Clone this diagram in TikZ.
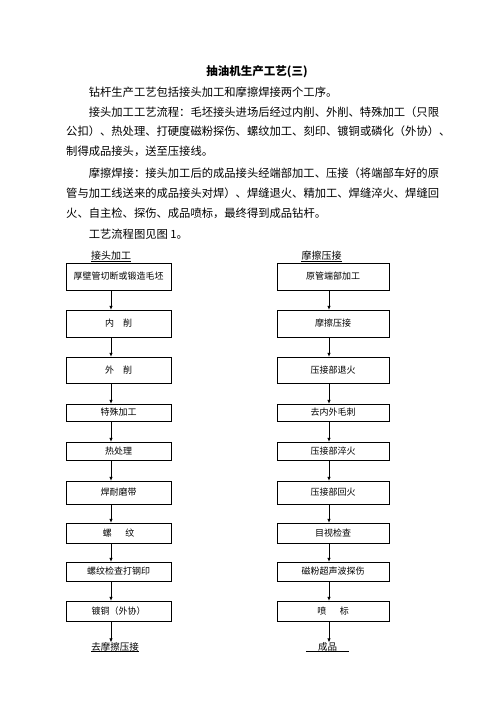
\documentclass[tikz,border=0pt]{standalone}
\usepackage{fontspec}
\setmainfont{Noto Sans CJK SC}
\usetikzlibrary{arrows.meta}
\begin{document}
\begin{tikzpicture}[
            x=1pt, y=-1pt,
            para/.style={anchor=west, inner sep=0pt, font=\fontsize{11.3}{11.3}\selectfont},
            lbox/.style={rectangle, draw, minimum width=105pt, inner sep=0pt, font=\fontsize{9}{9}\selectfont},
            rbox/.style={rectangle, draw, minimum width=112pt, inner sep=0pt, font=\fontsize{9}{9}\selectfont},
            head/.style={inner sep=0pt, font=\fontsize{10}{10}\selectfont},
            tail/.style={inner sep=0pt, font=\fontsize{9.5}{9.5}\selectfont},
            arr/.style={-{Latex[length=4pt,width=3.5pt]}, line width=0.7pt}
        ]
        \useasboundingbox (0,0) rectangle (496,702);
        % text above the chart
        \node[inner sep=0pt, font=\fontsize{11.5}{11.5}\selectfont\bfseries] (title) at (257,72) {抽油机生产工艺(三)};
        \node[para] (p1) at (88.6,92) {钻杆生产工艺包括接头加工和摩擦焊接两个工序。};
        \node[para] (p2) at (88.6,112) {接头加工工艺流程：毛坯接头进场后经过内削、外削、特殊加工（只限};
        \node[para] (p3) at (66,131) {公扣）、热处理、打硬度磁粉探伤、螺纹加工、刻印、镀铜或磷化（外协）、};
        \node[para] (p4) at (66,151) {制得成品接头，送至压接线。};
        \node[para] (p5) at (88.6,173) {摩擦焊接：接头加工后的成品接头经端部加工、压接（将端部车好的原};
        \node[para] (p6) at (66,193) {管与加工线送来的成品接头对焊）、焊缝退火、精加工、焊缝淬火、焊缝回};
        \node[para] (p7) at (66,213) {火、自主检、探伤、成品喷标，最终得到成品钻杆。};
        \node[para] (p8) at (88.6,234) {工艺流程图见图 1。};
        % left column
        \node[head] (lh) at (111,256) {接头加工};
        \node[lbox, minimum height=27pt] (l1) at (118.5,276.5) {厚壁管切断或锻造毛坯};
        \node[lbox, minimum height=27pt] (l2) at (118.5,323.5) {内　削};
        \node[lbox, minimum height=26pt] (l3) at (118.5,370) {外　削};
        \node[lbox, minimum height=17pt] (l4) at (118.5,412.5) {特殊加工};
        \node[lbox, minimum height=18pt] (l5) at (118.5,451) {热处理};
        \node[lbox, minimum height=23pt] (l6) at (118.5,492.5) {焊耐磨带};
        \node[lbox, minimum height=20pt] (l7) at (118.5,533) {螺\hspace{1.5em}纹};
        \node[lbox, minimum height=19pt] (l8) at (118.5,571.5) {螺纹检查打钢印};
        \node[lbox, minimum height=20pt] (l9) at (118.5,611) {镀铜（外协）};
        \node[tail] (lt) at (115,647) {去摩擦压接};
        % right column
        \node[head] (rh) at (321.5,256) {摩擦压接};
        \node[rbox, minimum height=27pt] (r1) at (333,276.5) {原管端部加工};
        \node[rbox, minimum height=27pt] (r2) at (333,323.5) {摩擦压接};
        \node[rbox, minimum height=26pt] (r3) at (333,370) {压接部退火};
        \node[rbox, minimum height=17pt] (r4) at (333,412.5) {去内外毛刺};
        \node[rbox, minimum height=18pt] (r5) at (333,451) {压接部淬火};
        \node[rbox, minimum height=23pt] (r6) at (333,492.5) {压接部回火};
        \node[rbox, minimum height=20pt] (r7) at (333,533) {目视检查};
        \node[rbox, minimum height=19pt] (r8) at (333,571.5) {磁粉超声波探伤};
        \node[rbox, minimum height=20pt] (r9) at (333,611) {喷\hspace{1.5em}标};
        \node[tail, minimum width=43pt] (rt) at (327.5,647) {成品};
        % underlines
        \draw (lh.south west) -- (lh.south east);
        \draw (rh.south west) -- (rh.south east);
        \draw (lt.south west) -- (lt.south east);
        \draw (rt.south west) -- (rt.south east);
        % arrows
        \draw[arr] ([xshift=-7.5pt]l1.south) -- ([xshift=-7.5pt]l2.north);
        \draw[arr] ([xshift=-7.5pt]l2.south) -- ([xshift=-7.5pt]l3.north);
        \draw[arr] ([xshift=-7.5pt]l3.south) -- ([xshift=-7.5pt]l4.north);
        \draw[arr] ([xshift=-7.5pt]l4.south) -- ([xshift=-7.5pt]l5.north);
        \draw[arr] ([xshift=-7.5pt]l5.south) -- ([xshift=-7.5pt]l6.north);
        \draw[arr] ([xshift=-7.5pt]l6.south) -- ([xshift=-7.5pt]l7.north);
        \draw[arr] ([xshift=-7.5pt]l7.south) -- ([xshift=-7.5pt]l8.north);
        \draw[arr] ([xshift=-7.5pt]l8.south) -- ([xshift=-7.5pt]l9.north);
        \draw[arr] ([xshift=-7.5pt]l9.south) -- ([xshift=-7.5pt]l9.south |- lt.north);
        \draw[arr] ([xshift=-4pt]r1.south) -- ([xshift=-4pt]r2.north);
        \draw[arr] ([xshift=-4pt]r2.south) -- ([xshift=-4pt]r3.north);
        \draw[arr] ([xshift=-4pt]r3.south) -- ([xshift=-4pt]r4.north);
        \draw[arr] ([xshift=-4pt]r4.south) -- ([xshift=-4pt]r5.north);
        \draw[arr] ([xshift=-4pt]r5.south) -- ([xshift=-4pt]r6.north);
        \draw[arr] ([xshift=-4pt]r6.south) -- ([xshift=-4pt]r7.north);
        \draw[arr] ([xshift=-4pt]r7.south) -- ([xshift=-4pt]r8.north);
        \draw[arr] ([xshift=-4pt]r8.south) -- ([xshift=-4pt]r9.north);
        \draw[arr] ([xshift=-4pt]r9.south) -- ([xshift=-4pt]r9.south |- rt.north);
\end{tikzpicture}
\end{document}
